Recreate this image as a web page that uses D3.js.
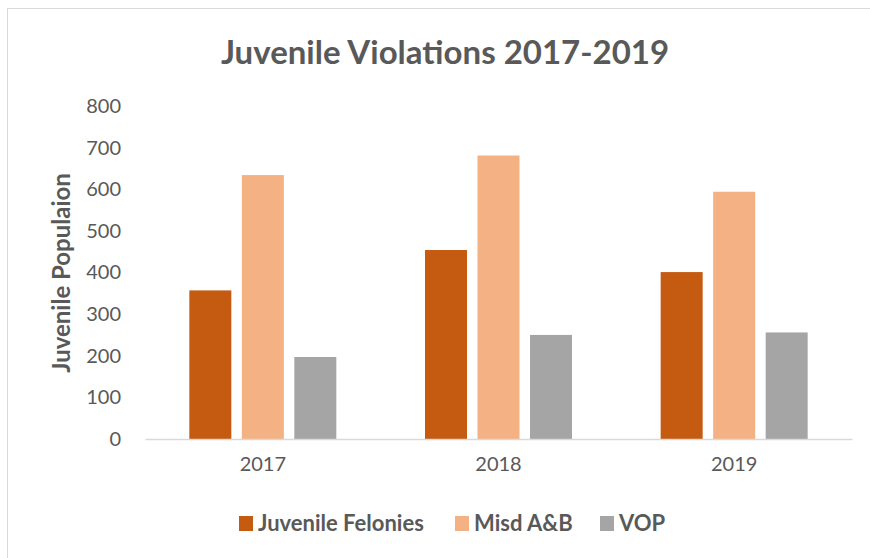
<!DOCTYPE html>
<html><head><meta charset="utf-8">
<script src="https://cdn.jsdelivr.net/npm/d3@7"></script>
<style>body{margin:0;background:#fff}svg{display:block}</style>
</head><body><svg id="c" width="870" height="558"></svg>
<script>
const categories = ["2017", "2018", "2019"];
const seriesNames = ["Juvenile Felonies", "Misd A&B", "VOP"];
const felonies = [357, 454, 401];
const misd = [634, 681, 594];
const vop = [197, 250, 256];
const yTicks = [0, 100, 200, 300, 400, 500, 600, 700, 800];
const colors = ["#C55A11", "#F4B183", "#A5A5A5"];

(function () {
const seriesValues = [felonies, misd, vop];
const svg = d3.select("#c");
const font = "Lato, 'Open Sans', sans-serif";
const txt = "#595959";

svg.append("rect").attr("x", 7.5).attr("y", 8.5).attr("width", 870).attr("height", 560)
  .attr("fill", "#fff").attr("stroke", "#D9D9D9");

const pL = 145, pR = 852, pT = 106, pB = 439;
const x = d3.scaleBand().domain(categories).range([pL, pR]).paddingInner(0).paddingOuter(0);
const x1 = d3.scaleBand().domain(seriesNames).range([0, 147]).paddingInner(0.2).paddingOuter(0);
const y = d3.scaleLinear().domain([0, 800]).range([pB, pT]);

svg.append("text").attr("x", 445).attr("y", 64).attr("text-anchor", "middle")
  .attr("font-family", font).attr("font-size", 33).attr("font-weight", "bold")
  .attr("fill", txt).text("Juvenile Violations 2017-2019");

const yAxis = d3.axisLeft(y).tickValues(yTicks).tickSize(0).tickPadding(0);
const ga = svg.append("g").attr("transform", `translate(121,0)`).call(yAxis);
ga.select(".domain").remove();
ga.selectAll("text").attr("font-family", font).attr("font-size", 20).attr("fill", txt);

categories.forEach((c, i) => {
  const g = svg.append("g").attr("transform", `translate(${x(c) + (x.bandwidth() - 147) / 2},0)`);
  seriesNames.forEach((s, j) => {
    const v = seriesValues[j][i];
    g.append("rect").attr("x", x1(s)).attr("width", x1.bandwidth())
      .attr("y", y(v)).attr("height", y(0) - y(v)).attr("fill", colors[j]);
  });
});

const xAxis = d3.axisBottom(x).tickSize(0).tickPadding(18);
const gx = svg.append("g").attr("transform", `translate(0,${pB})`).call(xAxis);
gx.select(".domain").attr("stroke", "#D9D9D9").attr("stroke-width", 1.5);
gx.selectAll("text").attr("font-family", font).attr("font-size", 20).attr("fill", txt);

svg.append("text").attr("transform", "translate(70,273) rotate(-90)").attr("text-anchor", "middle")
  .attr("font-family", font).attr("font-size", 24).attr("font-weight", "bold")
  .attr("fill", txt).text("Juvenile Populaion");

const legendX = [239, 455, 600];
seriesNames.forEach((s, j) => {
  svg.append("rect").attr("x", legendX[j]).attr("y", 516).attr("width", 14).attr("height", 15).attr("fill", colors[j]);
  svg.append("text").attr("x", legendX[j] + 19).attr("y", 531)
    .attr("font-family", font).attr("font-size", 22).attr("font-weight", "bold")
    .attr("fill", txt).text(s);
});
})();
</script></body></html>
